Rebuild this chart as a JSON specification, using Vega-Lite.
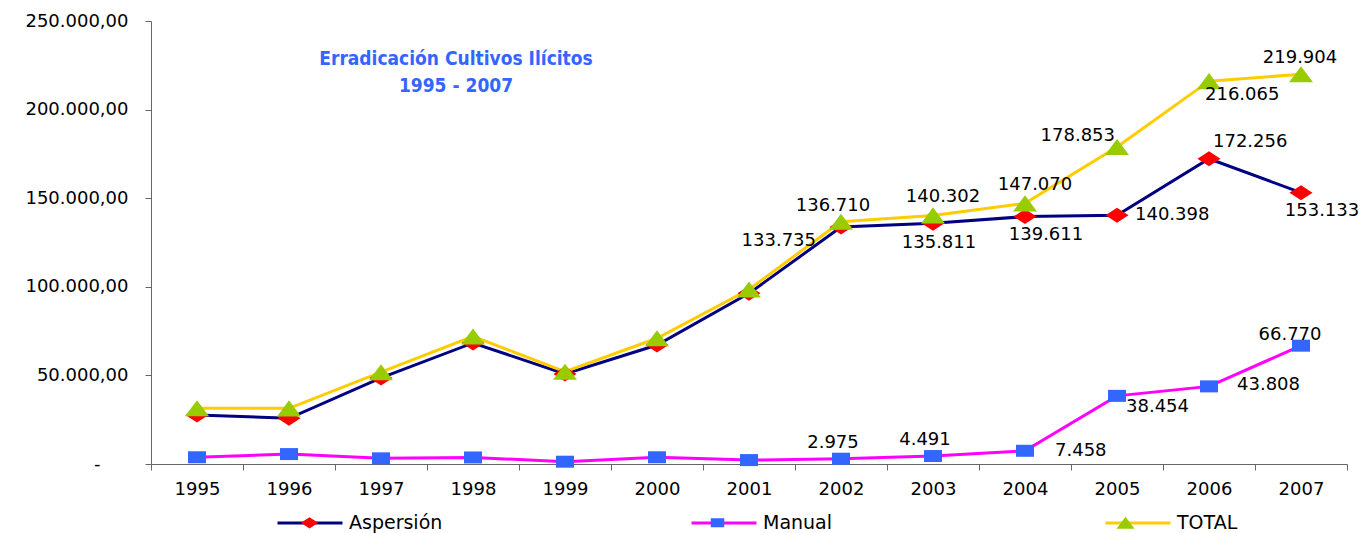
{
  "$schema": "https://vega.github.io/schema/vega-lite/v6.json",
  "width": 1196,
  "height": 443,
  "autosize": {"type": "none"},
  "padding": {"left": 151, "top": 21, "right": 25, "bottom": 69},
  "config": {
    "view": {"stroke": null},
    "font": "DejaVu Sans",
    "locale": {"number": {"decimal": ",", "thousands": ".", "grouping": [3], "currency": ["$", ""]}},
    "axis": {"grid": false, "domainColor": "#666666", "tickColor": "#666666", "labelColor": "#000000", "labelFont": "DejaVu Sans", "labelFontSize": 18, "tickSize": 6, "title": null}
  },
  "title": {
    "text": ["Erradicación Cultivos Ilícitos", "1995 - 2007"],
    "anchor": "start",
    "frame": "group",
    "align": "center",
    "baseline": "top",
    "dx": 305,
    "dy": 84,
    "offset": 0,
    "lineHeight": 27,
    "font": "Liberation Sans Narrow, DejaVu Sans Condensed, Liberation Sans",
    "fontSize": 19,
    "fontWeight": "bold",
    "color": "#3366FF"
  },
  "data": {
    "values": [
      {"year": "1995", "series": "Aspersión", "value": 27700},
      {"year": "1996", "series": "Aspersión", "value": 25800},
      {"year": "1997", "series": "Aspersión", "value": 48600},
      {"year": "1998", "series": "Aspersión", "value": 68300},
      {"year": "1999", "series": "Aspersión", "value": 50800},
      {"year": "2000", "series": "Aspersión", "value": 67150},
      {"year": "2001", "series": "Aspersión", "value": 96300},
      {"year": "2002", "series": "Aspersión", "value": 133735},
      {"year": "2003", "series": "Aspersión", "value": 135811},
      {"year": "2004", "series": "Aspersión", "value": 139611},
      {"year": "2005", "series": "Aspersión", "value": 140398},
      {"year": "2006", "series": "Aspersión", "value": 172256},
      {"year": "2007", "series": "Aspersión", "value": 153133},
      {"year": "1995", "series": "Manual", "value": 3800},
      {"year": "1996", "series": "Manual", "value": 5600},
      {"year": "1997", "series": "Manual", "value": 3200},
      {"year": "1998", "series": "Manual", "value": 3700},
      {"year": "1999", "series": "Manual", "value": 1300},
      {"year": "2000", "series": "Manual", "value": 3800},
      {"year": "2001", "series": "Manual", "value": 2200},
      {"year": "2002", "series": "Manual", "value": 2975},
      {"year": "2003", "series": "Manual", "value": 4491},
      {"year": "2004", "series": "Manual", "value": 7458},
      {"year": "2005", "series": "Manual", "value": 38454},
      {"year": "2006", "series": "Manual", "value": 43808},
      {"year": "2007", "series": "Manual", "value": 66770},
      {"year": "1995", "series": "TOTAL", "value": 31500},
      {"year": "1996", "series": "TOTAL", "value": 31400},
      {"year": "1997", "series": "TOTAL", "value": 51800},
      {"year": "1998", "series": "TOTAL", "value": 72000},
      {"year": "1999", "series": "TOTAL", "value": 52100},
      {"year": "2000", "series": "TOTAL", "value": 70950},
      {"year": "2001", "series": "TOTAL", "value": 98500},
      {"year": "2002", "series": "TOTAL", "value": 136710},
      {"year": "2003", "series": "TOTAL", "value": 140302},
      {"year": "2004", "series": "TOTAL", "value": 147070},
      {"year": "2005", "series": "TOTAL", "value": 178853},
      {"year": "2006", "series": "TOTAL", "value": 216065},
      {"year": "2007", "series": "TOTAL", "value": 219904}
    ]
  },
  "encoding": {
    "x": {
      "field": "year", "type": "ordinal", "bandPosition": 0.5,
      "scale": {"type": "band", "paddingInner": 0, "paddingOuter": 0},
      "axis": {"tickBand": "extent", "labelAngle": 0, "labelPadding": 10, "labelBaseline": "top"}
    },
    "y": {
      "field": "value", "type": "quantitative",
      "scale": {"domain": [0, 250000], "nice": false},
      "axis": {"values": [0, 50000, 100000, 150000, 200000, 250000], "format": ",.2f",
               "labelPadding": {"condition": {"test": "datum.value == 0", "value": 45}, "value": 17},
               "labelExpr": "datum.value == 0 ? '-' : datum.label"}
    }
  },
  "layer": [
    {
      "mark": {"type": "line", "strokeWidth": 3},
      "encoding": {
        "stroke": {
          "field": "series", "type": "nominal",
          "scale": {"domain": ["Aspersión", "Manual", "TOTAL"], "range": ["#000080", "#FF00FF", "#FFCC00"]},
          "legend": {"orient": "none", "legendX": 125, "legendY": 468, "padding": 0, "direction": "horizontal", "columns": 3, "gridAlign": "all", "columnPadding": 242,
                     "symbolType": "stroke", "symbolSize": 4225, "symbolStrokeWidth": 3, "labelFont": "DejaVu Sans", "labelFontSize": 19, "labelOffset": 5, "labelColor": "#000000", "title": null}
        }
      }
    },
    {
      "transform": [{"calculate": "datum.series", "as": "marker"}],
      "mark": {"type": "point", "filled": true, "opacity": 1, "strokeWidth": 0, "size": 576},
      "encoding": {
        "fill": {
          "field": "marker", "type": "nominal",
          "scale": {"range": ["#FF0000", "#3366FF", "#99CC00"]},
          "legend": {"orient": "none", "legendX": 149, "legendY": 492, "padding": 0, "direction": "horizontal", "columns": 3, "gridAlign": "all", "columnPadding": 389,
                     "symbolSize": 324, "symbolStrokeWidth": 0, "labelFontSize": 19, "labelOffset": 0, "labelExpr": "''", "title": null}
        },
        "shape": {
          "field": "marker", "type": "nominal",
          "scale": {"range": ["M-0.96,0L0,-0.625L0.96,0L0,0.625Z", "M-0.75,-0.5H0.75V0.5H-0.75Z", "M0,-0.67L1,0.67H-1Z"]},
          "legend": {"orient": "none", "legendX": 149, "legendY": 492, "padding": 0, "direction": "horizontal", "columns": 3, "gridAlign": "all", "columnPadding": 389,
                     "symbolSize": 324, "symbolStrokeWidth": 0, "labelFontSize": 19, "labelOffset": 0, "labelExpr": "''", "title": null}
        }
      }
    },
    {
      "transform": [{"filter": "(datum.series == 'TOTAL' && datum.year == '2002') || (datum.series == 'Manual' && (datum.year == '2002' || datum.year == '2003'))"}],
      "mark": {"type": "text", "align": "center", "baseline": "middle", "dx": -8, "dy": -16, "fontSize": 18, "font": "DejaVu Sans", "color": "#000000"},
      "encoding": {"text": {"field": "value", "type": "quantitative", "format": ",d"}}
    },
    {
      "transform": [{"filter": "datum.series == 'TOTAL' && (datum.year == '2003' || datum.year == '2004')"}],
      "mark": {"type": "text", "align": "center", "baseline": "middle", "dx": 10, "dy": -18, "fontSize": 18, "font": "DejaVu Sans", "color": "#000000"},
      "encoding": {"text": {"field": "value", "type": "quantitative", "format": ",d"}}
    },
    {
      "transform": [{"filter": "datum.series == 'TOTAL' && datum.year == '2007'"}],
      "mark": {"type": "text", "align": "center", "baseline": "middle", "dx": -1, "dy": -16, "fontSize": 18, "font": "DejaVu Sans", "color": "#000000"},
      "encoding": {"text": {"field": "value", "type": "quantitative", "format": ",d"}}
    },
    {
      "transform": [{"filter": "datum.series == 'Manual' && datum.year == '2007'"}],
      "mark": {"type": "text", "align": "center", "baseline": "middle", "dx": -11, "dy": -11, "fontSize": 18, "font": "DejaVu Sans", "color": "#000000"},
      "encoding": {"text": {"field": "value", "type": "quantitative", "format": ",d"}}
    },
    {
      "transform": [{"filter": "datum.series == 'Aspersión' && datum.year == '2003'"}],
      "mark": {"type": "text", "align": "center", "baseline": "middle", "dx": 6, "dy": 20, "fontSize": 18, "font": "DejaVu Sans", "color": "#000000"},
      "encoding": {"text": {"field": "value", "type": "quantitative", "format": ",d"}}
    },
    {
      "transform": [{"filter": "datum.series == 'Aspersión' && (datum.year == '2004' || datum.year == '2007')"}],
      "mark": {"type": "text", "align": "center", "baseline": "middle", "dx": 21, "dy": 18, "fontSize": 18, "font": "DejaVu Sans", "color": "#000000"},
      "encoding": {"text": {"field": "value", "type": "quantitative", "format": ",d"}}
    },
    {
      "transform": [{"filter": "datum.series == 'Aspersión' && datum.year == '2005'"}],
      "mark": {"type": "text", "align": "left", "baseline": "middle", "dx": 18, "dy": 0, "fontSize": 18, "font": "DejaVu Sans", "color": "#000000"},
      "encoding": {"text": {"field": "value", "type": "quantitative", "format": ",d"}}
    },
    {
      "transform": [{"filter": "datum.series == 'Aspersión' && datum.year == '2006'"}],
      "mark": {"type": "text", "align": "left", "baseline": "middle", "dx": 4, "dy": -17, "fontSize": 18, "font": "DejaVu Sans", "color": "#000000"},
      "encoding": {"text": {"field": "value", "type": "quantitative", "format": ",d"}}
    },
    {
      "transform": [{"filter": "datum.series == 'Aspersión' && datum.year == '2002'"}],
      "mark": {"type": "text", "align": "right", "baseline": "middle", "dx": -25, "dy": 14, "fontSize": 18, "font": "DejaVu Sans", "color": "#000000"},
      "encoding": {"text": {"field": "value", "type": "quantitative", "format": ",d"}}
    },
    {
      "transform": [{"filter": "datum.series == 'TOTAL' && datum.year == '2005'"}],
      "mark": {"type": "text", "align": "right", "baseline": "middle", "dx": -2, "dy": -11, "fontSize": 18, "font": "DejaVu Sans", "color": "#000000"},
      "encoding": {"text": {"field": "value", "type": "quantitative", "format": ",d"}}
    },
    {
      "transform": [{"filter": "datum.series == 'TOTAL' && datum.year == '2006'"}],
      "mark": {"type": "text", "align": "left", "baseline": "middle", "dx": -4, "dy": 14, "fontSize": 18, "font": "DejaVu Sans", "color": "#000000"},
      "encoding": {"text": {"field": "value", "type": "quantitative", "format": ",d"}}
    },
    {
      "transform": [{"filter": "datum.series == 'Manual' && datum.year == '2004'"}],
      "mark": {"type": "text", "align": "left", "baseline": "middle", "dx": 30, "dy": 0, "fontSize": 18, "font": "DejaVu Sans", "color": "#000000"},
      "encoding": {"text": {"field": "value", "type": "quantitative", "format": ",d"}}
    },
    {
      "transform": [{"filter": "datum.series == 'Manual' && datum.year == '2005'"}],
      "mark": {"type": "text", "align": "left", "baseline": "middle", "dx": 9, "dy": 11, "fontSize": 18, "font": "DejaVu Sans", "color": "#000000"},
      "encoding": {"text": {"field": "value", "type": "quantitative", "format": ",d"}}
    },
    {
      "transform": [{"filter": "datum.series == 'Manual' && datum.year == '2006'"}],
      "mark": {"type": "text", "align": "left", "baseline": "middle", "dx": 28, "dy": -1, "fontSize": 18, "font": "DejaVu Sans", "color": "#000000"},
      "encoding": {"text": {"field": "value", "type": "quantitative", "format": ",d"}}
    }
  ]
}
